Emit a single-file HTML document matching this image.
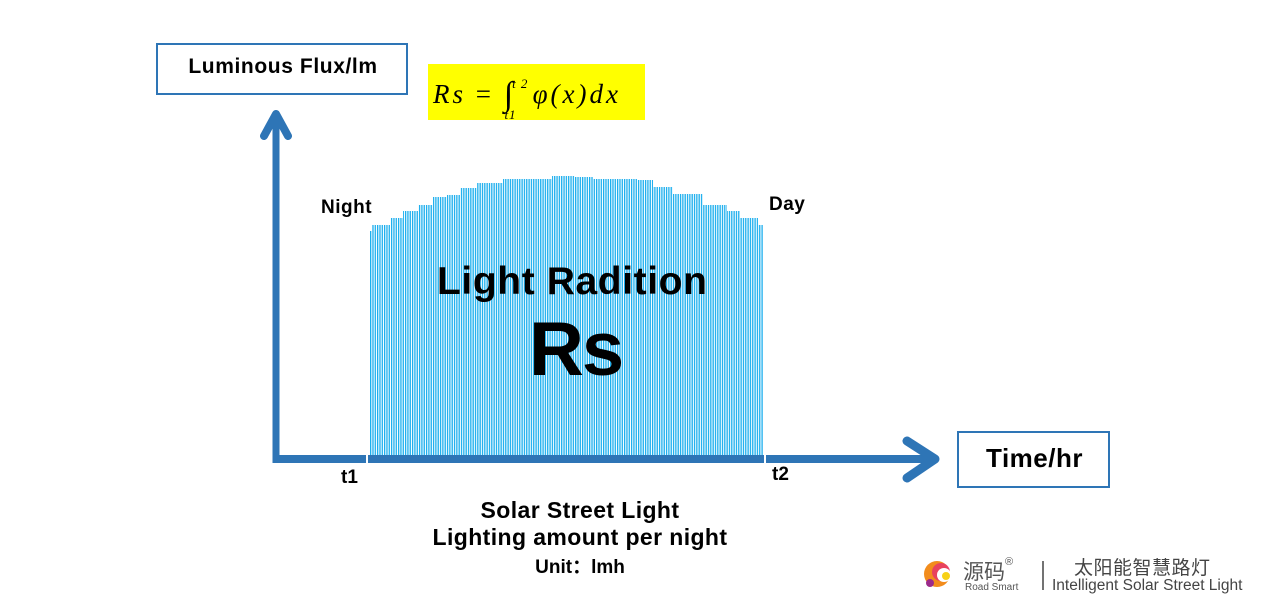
<!DOCTYPE html>
<html><head><meta charset="utf-8"><style>
html,body{margin:0;padding:0;background:#fff;}
body{width:1268px;height:602px;position:relative;overflow:hidden;font-family:"Liberation Sans","Noto Sans CJK SC",sans-serif;}
.t{position:absolute;font-weight:bold;color:#000;white-space:nowrap;}
</style></head><body>
<svg width="1268" height="602" style="position:absolute;left:0;top:0">
<defs>
<pattern id="bars" x="370" y="0" width="2.33" height="10" patternUnits="userSpaceOnUse">
<rect x="0" y="0" width="1.3" height="10" fill="#1aaeee"/>
</pattern>
<clipPath id="prof"><polygon points="370,455 370,231 372,231 372,225 390,225 390,218 403,218 403,211 418,211 418,205 433,205 433,197 447,197 447,195 460,195 460,188 477,188 477,183 503,183 503,179 552,179 552,176 575,176 575,177 593,177 593,179 637,179 637,180 653,180 653,187 673,187 673,194 703,194 703,205 727,205 727,211 740,211 740,218 758,218 758,225 763,225 763,455"/></clipPath>
</defs>
<rect x="368" y="170" width="396" height="286" fill="url(#bars)" clip-path="url(#prof)"/>
<rect x="157" y="44" width="250" height="50" fill="#fff" stroke="#2e75b6" stroke-width="2"/>
<rect x="958" y="432" width="151" height="55" fill="#fff" stroke="#2e75b6" stroke-width="2"/>
<rect x="428" y="64" width="217" height="56" fill="#ffff00"/>
<line x1="276" y1="116" x2="276" y2="463" stroke="#2e75b6" stroke-width="7"/>
<polyline points="264,136 276,114 288,136" fill="none" stroke="#2e75b6" stroke-width="8" stroke-linecap="round" stroke-linejoin="round"/>
<line x1="273" y1="459" x2="366" y2="459" stroke="#2e75b6" stroke-width="8"/>
<line x1="368" y1="459" x2="764" y2="459" stroke="#2e75b6" stroke-width="8"/>
<line x1="766" y1="459" x2="934" y2="459" stroke="#2e75b6" stroke-width="8"/>
<polyline points="907,441 935,459 907,478" fill="none" stroke="#2e75b6" stroke-width="9" stroke-linecap="round" stroke-linejoin="round"/>
<line x1="1043" y1="561" x2="1043" y2="590" stroke="#444" stroke-width="1.5"/>
<circle cx="937" cy="574" r="13" fill="#f28c1c"/>
<circle cx="941" cy="572" r="9" fill="#e5306e" opacity="0.8"/>
<circle cx="944" cy="575" r="7" fill="#fff"/>
<circle cx="946" cy="576" r="4" fill="#f7d117"/>
<circle cx="930" cy="583" r="4" fill="#9b2a8a"/>
</svg>
<div class="t" style="left:157px;top:55px;width:252px;text-align:center;font-size:21px;letter-spacing:0.6px;">Luminous Flux/lm</div>
<div style="position:absolute;left:433px;top:74px;font-family:'Liberation Serif',serif;font-style:italic;font-size:27px;white-space:nowrap;letter-spacing:3px;">Rs <span style="font-style:normal">=</span> <span style="font-style:normal;font-size:34px;position:relative;top:2px">∫</span><span style="font-size:13px;position:relative;top:-15px;left:-4px;letter-spacing:1px">t 2</span><span style="font-size:13px;position:relative;top:16px;left:-28px;letter-spacing:1px">t1</span><span style="position:relative;left:-12px">φ(x)dx</span></div>
<div class="t" style="left:321px;top:197px;font-size:19px;letter-spacing:0.5px;">Night</div>
<div class="t" style="left:769px;top:194px;font-size:19px;letter-spacing:0.5px;">Day</div>
<div class="t" style="left:437px;top:260px;font-size:39px;letter-spacing:0.6px;">Light Radition</div>
<div class="t" style="left:529px;top:306px;font-size:76px;letter-spacing:-2px;">Rs</div>
<div class="t" style="left:341px;top:467px;font-size:19px;">t1</div>
<div class="t" style="left:772px;top:464px;font-size:19px;">t2</div>
<div class="t" style="left:958px;top:443px;width:153px;text-align:center;font-size:26px;letter-spacing:0.5px;">Time/hr</div>
<div class="t" style="left:380px;top:497px;width:400px;text-align:center;font-size:23px;line-height:27px;letter-spacing:0.4px;">Solar Street Light<br>Lighting amount per night</div>
<div class="t" style="left:380px;top:552px;width:400px;text-align:center;font-size:19px;">Unit：lmh</div>
<div style="position:absolute;left:963px;top:556px;font-size:21px;color:#555;">源码<span style="font-size:11px;vertical-align:top">®</span></div>
<div style="position:absolute;left:965px;top:582px;font-size:10px;color:#555;">Road Smart</div>
<div style="position:absolute;left:1074px;top:553px;font-size:19px;color:#444;letter-spacing:0.5px;">太阳能智慧路灯</div>
<div style="position:absolute;left:1052px;top:577px;font-size:15.5px;color:#444;">Intelligent Solar Street Light</div>
</body></html>
